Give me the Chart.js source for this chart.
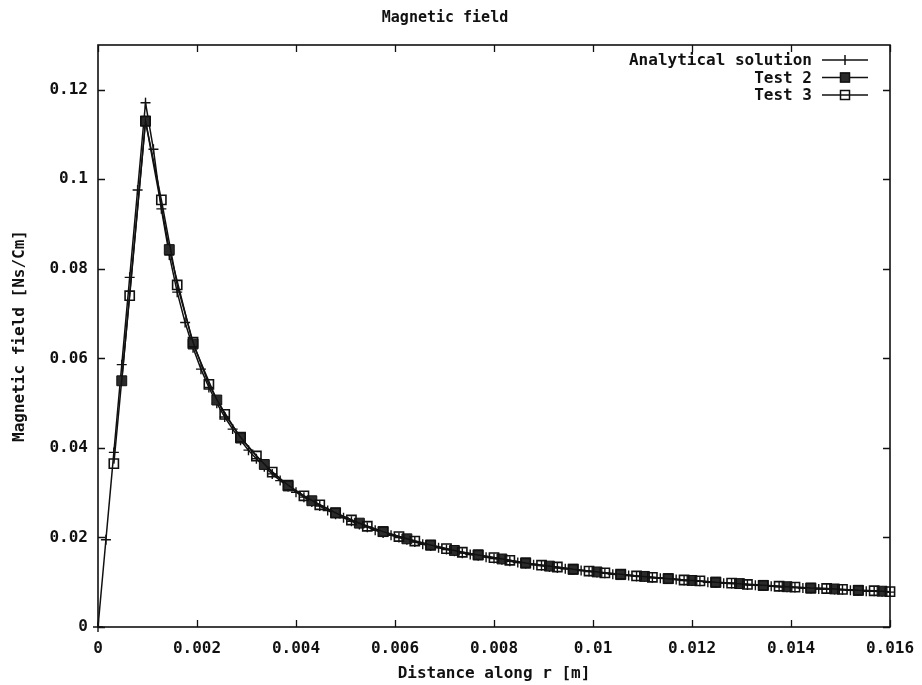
<!DOCTYPE html>
<html>
<head>
<meta charset="utf-8">
<script src="https://cdn.jsdelivr.net/npm/chart.js@4/dist/chart.umd.min.js"></script>
<style>
  html, body { margin: 0; padding: 0; background: #fff; }
  #wrap { width: 922px; height: 685px; }
</style>
</head>
<body>
<div id="wrap"><canvas id="fieldChart"></canvas></div>
<script>
// distance along r [m] and field values
var radiusAnalytical = [0, 0.00016, 0.00032, 0.00048, 0.00064, 0.0008, 0.00096, 0.00112, 0.00128, 0.00144,
  0.0016, 0.00176, 0.00192, 0.00208, 0.00224, 0.0024, 0.00256, 0.00272, 0.00288, 0.00304,
  0.0032, 0.00336, 0.00352, 0.00368, 0.00384, 0.004, 0.00416, 0.00432, 0.00448, 0.00464,
  0.0048, 0.00496, 0.00512, 0.00528, 0.00544, 0.0056, 0.00576, 0.00592, 0.00608, 0.00624,
  0.0064, 0.00656, 0.00672, 0.00688, 0.00704, 0.0072, 0.00736, 0.00752, 0.00768, 0.00784,
  0.008, 0.00816, 0.00832, 0.00848, 0.00864, 0.0088, 0.00896, 0.00912, 0.00928, 0.00944,
  0.0096, 0.00976, 0.00992, 0.01008, 0.01024, 0.0104, 0.01056, 0.01072, 0.01088, 0.01104,
  0.0112, 0.01136, 0.01152, 0.01168, 0.01184, 0.012, 0.01216, 0.01232, 0.01248, 0.01264,
  0.0128, 0.01296, 0.01312, 0.01328, 0.01344, 0.0136, 0.01376, 0.01392, 0.01408, 0.01424,
  0.0144, 0.01456, 0.01472, 0.01488, 0.01504, 0.0152, 0.01536, 0.01552, 0.01568, 0.01584, 0.016]
var fieldAnalytical = [0, 0.0195, 0.039, 0.0586, 0.0781, 0.0976, 0.1171, 0.1067, 0.0934, 0.0831,
  0.0748, 0.068, 0.0624, 0.0576, 0.0535, 0.05, 0.0469, 0.0442, 0.0417, 0.0395,
  0.0376, 0.0358, 0.0342, 0.0327, 0.0314, 0.0301, 0.029, 0.0279, 0.027, 0.026,
  0.0252, 0.0244, 0.0236, 0.0229, 0.0223, 0.0216, 0.021, 0.0205, 0.02, 0.0195,
  0.019, 0.0185, 0.0181, 0.0177, 0.0173, 0.0169, 0.0165, 0.0162, 0.0159, 0.0156,
  0.0153, 0.015, 0.0147, 0.0144, 0.0142, 0.0139, 0.0137, 0.0134, 0.0132, 0.013,
  0.0128, 0.0126, 0.0124, 0.0122, 0.012, 0.0118, 0.0116, 0.0115, 0.0113, 0.0112,
  0.011, 0.0109, 0.0107, 0.0106, 0.0104, 0.0103, 0.0102, 0.01, 0.0099, 0.0098,
  0.0097, 0.0096, 0.0094, 0.0093, 0.0092, 0.0091, 0.009, 0.0089, 0.0088, 0.0087,
  0.0086, 0.0085, 0.0085, 0.0084, 0.0083, 0.0082, 0.0081, 0.008, 0.008, 0.0079, 0.0078]

var radiusTest2 = [0.00048, 0.00096, 0.00144, 0.00192, 0.0024, 0.00288, 0.00336, 0.00384, 0.00432, 0.0048,
  0.00528, 0.00576, 0.00624, 0.00672, 0.0072, 0.00768, 0.00816, 0.00864, 0.00912, 0.0096,
  0.01008, 0.01056, 0.01104, 0.01152, 0.012, 0.01248, 0.01296, 0.01344, 0.01392, 0.0144,
  0.01488, 0.01536, 0.01584]
var fieldTest2 = [0.055, 0.113, 0.0843, 0.0632, 0.0507, 0.0422, 0.0363, 0.0315, 0.0282, 0.0255,
  0.0232, 0.0213, 0.0197, 0.0183, 0.0171, 0.0161, 0.0152, 0.0143, 0.0136, 0.0129,
  0.0123, 0.0117, 0.0113, 0.0108, 0.0104, 0.01, 0.0097, 0.0093, 0.009, 0.0087,
  0.0085, 0.0082, 0.008]

var radiusTest3 = [0.00032, 0.00064, 0.00096, 0.00128, 0.0016, 0.00192, 0.00224, 0.00256, 0.00288, 0.0032,
  0.00352, 0.00384, 0.00416, 0.00448, 0.0048, 0.00512, 0.00544, 0.00576, 0.00608, 0.0064,
  0.00672, 0.00704, 0.00736, 0.00768, 0.008, 0.00832, 0.00864, 0.00896, 0.00928, 0.0096,
  0.00992, 0.01024, 0.01056, 0.01088, 0.0112, 0.01152, 0.01184, 0.01216, 0.01248, 0.0128,
  0.01312, 0.01344, 0.01376, 0.01408, 0.0144, 0.01472, 0.01504, 0.01536, 0.01568, 0.016]
var fieldTest3 = [0.0365, 0.074, 0.113, 0.0954, 0.0764, 0.0636, 0.0542, 0.0475, 0.0424, 0.0382,
  0.0346, 0.0317, 0.0293, 0.0273, 0.0255, 0.0239, 0.0225, 0.0213, 0.0202, 0.0192,
  0.0183, 0.0175, 0.0167, 0.0161, 0.0155, 0.0149, 0.0143, 0.0138, 0.0134, 0.0129,
  0.0125, 0.0121, 0.0118, 0.0114, 0.0111, 0.0108, 0.0105, 0.0103, 0.01, 0.0098,
  0.0095, 0.0093, 0.0091, 0.0089, 0.0087, 0.0086, 0.0084, 0.0082, 0.0081, 0.0079]

var seriesLabels = ['Analytical solution', 'Test 2', 'Test 3']

function toPoints(xs, ys) {
  return xs.map(function (x, i) { return { x: x, y: ys[i] } })
}

var ink = '#111'
var fmt = function (v) { return String(+v.toFixed(4)) }

Chart.defaults.font.family = "'DejaVu Sans Mono', 'Liberation Mono', monospace"
Chart.defaults.font.weight = 'bold'
Chart.defaults.font.size = 16
Chart.defaults.color = ink

// frame with inward ticks on all four sides (gnuplot style)
var framePlugin = {
  id: 'frame',
  afterDraw: function (chart) {
    var ctx = chart.ctx, a = chart.chartArea
    var xs = chart.scales.x, ys = chart.scales.y
    var len = 7
    ctx.save()
    ctx.strokeStyle = ink
    ctx.lineWidth = 1.6
    ctx.strokeRect(a.left, a.top, a.right - a.left, a.bottom - a.top)
    ctx.lineWidth = 1.3
    ctx.beginPath()
    xs.ticks.forEach(function (t) {
      var px = Math.round(xs.getPixelForValue(t.value)) + 0.5
      ctx.moveTo(px, a.bottom); ctx.lineTo(px, a.bottom - len)
      ctx.moveTo(px, a.top); ctx.lineTo(px, a.top + len)
    })
    ys.ticks.forEach(function (t) {
      var py = Math.round(ys.getPixelForValue(t.value)) + 0.5
      ctx.moveTo(a.left, py); ctx.lineTo(a.left + len, py)
      ctx.moveTo(a.right, py); ctx.lineTo(a.right - len, py)
    })
    ctx.stroke()
    ctx.restore()
  }
}

// legend inside the top right corner, text right aligned, sample to the right
var keyPlugin = {
  id: 'key',
  afterDraw: function (chart) {
    var ctx = chart.ctx
    var textRight = 812, lineL = 822, lineR = 868, mx = 845
    var rows = [60, 77.5, 95]
    ctx.save()
    ctx.font = 'bold 16px ' + Chart.defaults.font.family
    ctx.textAlign = 'right'
    ctx.textBaseline = 'middle'
    chart.data.datasets.forEach(function (ds, i) {
      var y = rows[i]
      ctx.fillStyle = ink
      ctx.fillText(ds.label, textRight, y + 1)
      ctx.strokeStyle = ink
      ctx.lineWidth = 1.5
      ctx.beginPath(); ctx.moveTo(lineL, y); ctx.lineTo(lineR, y); ctx.stroke()
      if (ds.pointStyle === 'cross') {
        ctx.beginPath(); ctx.moveTo(mx, y - 5); ctx.lineTo(mx, y + 5); ctx.stroke()
      } else if (ds.pointStyle === 'rect') {
        if (ds.pointBackgroundColor !== 'transparent') {
          ctx.fillStyle = ds.pointBackgroundColor
          ctx.fillRect(mx - 5, y - 5, 10, 10)
        } else {
          ctx.fillStyle = '#fff'
          ctx.fillRect(mx - 4, y - 4, 8, 8)
          ctx.beginPath(); ctx.moveTo(mx - 4, y); ctx.lineTo(mx + 4, y); ctx.stroke()
        }
        ctx.lineWidth = 1.5
        ctx.strokeRect(mx - 4.5, y - 4.5, 9, 9)
      }
    })
    ctx.restore()
  }
}

var fieldChart = new Chart(document.getElementById('fieldChart').getContext('2d'), {
  type: 'scatter',
  data: {
    datasets: [
      {
        label: seriesLabels[0],
        data: toPoints(radiusAnalytical, fieldAnalytical),
        showLine: true,
        borderColor: ink,
        borderWidth: 1.5,
        pointStyle: 'cross',
        pointRadius: 5,
        pointBorderWidth: 1.4,
        pointBorderColor: ink,
        clip: false,
        order: 2
      },
      {
        label: seriesLabels[1],
        data: toPoints(radiusTest2, fieldTest2),
        showLine: true,
        borderColor: ink,
        borderWidth: 1.5,
        pointStyle: 'rect',
        pointRadius: 7,
        pointBackgroundColor: '#2b2b2b',
        pointBorderColor: ink,
        pointBorderWidth: 1,
        clip: false,
        order: 1
      },
      {
        label: seriesLabels[2],
        data: toPoints(radiusTest3, fieldTest3),
        showLine: true,
        borderColor: ink,
        borderWidth: 1.5,
        pointStyle: 'rect',
        pointRadius: 6.5,
        pointBackgroundColor: 'transparent',
        pointBorderColor: ink,
        pointBorderWidth: 1.6,
        clip: false,
        order: 0
      }
    ]
  },
  options: {
    responsive: true,
    maintainAspectRatio: false,
    animation: false,
    layout: { padding: { top: 0, right: 32, bottom: 0, left: 0 } },
    plugins: {
      legend: { display: false },
      tooltip: { enabled: false },
      title: {
        display: true,
        text: 'Magnetic field',
        color: ink,
        font: { size: 15, weight: 'bold' },
        padding: { top: 9, bottom: 18 }
      }
    },
    scales: {
      x: {
        type: 'linear',
        min: 0,
        max: 0.016,
        grid: { display: false, drawTicks: false },
        border: { display: false },
        ticks: { stepSize: 0.002, padding: 12, maxRotation: 0, callback: fmt },
        title: { display: true, text: 'Distance along r [m]', color: ink, padding: { top: 0, bottom: 2 } },
        afterFit: function (scale) {
          scale.height = 58
          scale.paddingRight = 0
          scale.paddingLeft = 0
        }
      },
      y: {
        type: 'linear',
        min: 0,
        max: 0.13,
        grid: { display: false, drawTicks: false },
        border: { display: false },
        ticks: { stepSize: 0.02, padding: 10, includeBounds: false, callback: fmt },
        title: { display: true, text: 'Magnetic field [Ns/Cm]', color: ink, padding: { top: 10, bottom: 0 } },
        afterFit: function (scale) {
          scale.width = 98
          scale.paddingTop = 0
          scale.paddingBottom = 0
        }
      }
    }
  },
  plugins: [framePlugin, keyPlugin]
})
</script>
</body>
</html>
